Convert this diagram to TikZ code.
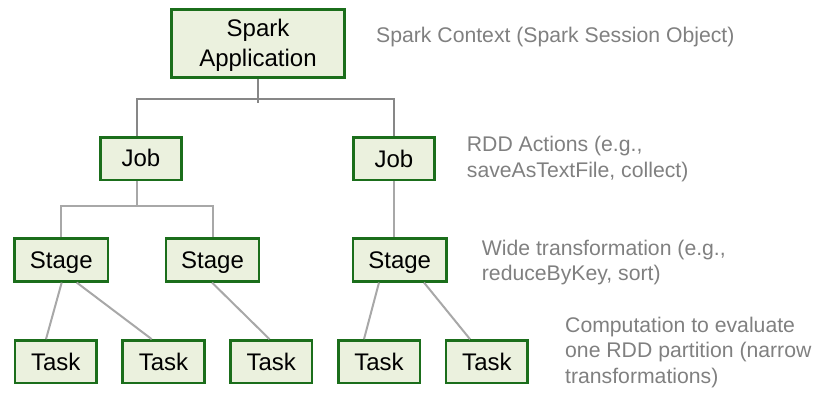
\documentclass[tikz,border=0pt]{standalone}
\usepackage{fontspec}
\setmainfont{Liberation Sans}
\definecolor{boxedge}{HTML}{1B6E1B}
\definecolor{boxfill}{HTML}{EBF1DE}
\definecolor{linkdark}{HTML}{878787}
\definecolor{linklight}{HTML}{A8A8A8}
\definecolor{notegray}{HTML}{808080}
\tikzset{
  unit/.style={draw=boxedge, fill=boxfill, line width=2.6pt, inner sep=0pt,
    font=\fontsize{24}{30}\selectfont, align=center},
  oneline/.style={unit, minimum height=42.5pt, text height=21pt, text depth=4.4pt},
  jobbox/.style={oneline, minimum width=81.5pt},
  stagebox/.style={oneline, minimum width=93.2pt},
  taskbox/.style={oneline, minimum width=81.6pt},
  toplink/.style={draw=linkdark, line width=2pt},
  sublink/.style={draw=linklight, line width=2pt},
  % multi-line notes: the base anchor sits on the last line
  note/.style={anchor=base west, inner sep=0pt, align=left, text=notegray,
    font=\fontsize{21.2}{25.5}\selectfont}
}
\begin{document}
\begin{tikzpicture}[x=1pt, y=-1pt]
\useasboundingbox (0,0) rectangle (815,400);

% application level
\node[unit, minimum width=173.4pt, minimum height=68.4pt] (app) at (258,43.5)
  {\rule{0pt}{21.4pt}Spark\\Application};

% jobs
\node[jobbox] (jobA) at (141,158.6) {Job};
\node[jobbox] (jobB) at (394,158.8) {Job};

% stages
\node[stagebox] (stA) at (61.3,260) {Stage};
\node[stagebox] (stB) at (212.5,260) {Stage};
\node[stagebox] (stC) at (399.7,260) {Stage};

% tasks
\node[taskbox] (tA) at (55.8,361.7) {Task};
\node[taskbox] (tB) at (163.5,361.7) {Task};
\node[taskbox] (tC) at (271.3,361.7) {Task};
\node[taskbox] (tD) at (379,361.7) {Task};
\node[taskbox] (tE) at (486.9,361.7) {Task};

% application -> jobs
\coordinate (appbus) at (258,99);
\coordinate (append) at (258,103);
\draw[toplink] (app.south) -- (append);
\draw[toplink] ([xshift=-4.3pt]jobA.north) |- (appbus) -| (jobB.north);

% left job -> its two stages
\coordinate (jobbus) at (136.7,206);
\draw[sublink] ([xshift=-4.3pt]jobA.south) -- (jobbus);
\draw[sublink] (stA.north) |- (jobbus) -| (stB.north);

% right job -> its stage
\draw[sublink] (jobB.south) -- (jobB.south |- stC.north);

% stages -> tasks
\draw[sublink] ([xshift=0.4pt]stA.south) -- ([xshift=-9.8pt]tA.north);
\draw[sublink] ([xshift=15.4pt]stA.south) -- ([xshift=-11.8pt]tB.north);
\draw[sublink] ([xshift=-0.5pt]stB.south) -- ([xshift=-1.8pt]tC.north);
\draw[sublink] ([xshift=-20.7pt]stC.south) -- ([xshift=-15pt]tD.north);
\draw[sublink] ([xshift=24.3pt]stC.south) -- ([xshift=-16.9pt]tE.north);

% descriptions
\node[note] (nApp) at (376,42.7) {Spark Context (Spark Session Object)};
\node[note] (nJob) at (466.7,177) {RDD Actions (e.g.,\\saveAsTextFile, collect)};
\node[note] (nStage) at (481.7,280.7) {Wide transformation (e.g.,\\reduceByKey, sort)};
\node[note] (nTask) at (565,383.3) {Computation to evaluate\\one RDD partition (narrow\\transformations)};
\end{tikzpicture}
\end{document}
